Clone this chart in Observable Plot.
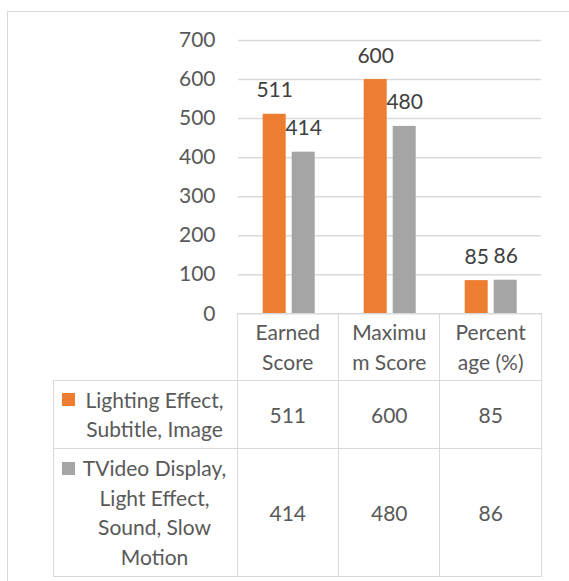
<!DOCTYPE html>
<html>
<head>
<meta charset="utf-8">
<script src="https://cdn.jsdelivr.net/npm/d3@7"></script>
<script src="https://cdn.jsdelivr.net/npm/@observablehq/plot@0.6"></script>
<style>
  html, body { margin: 0; padding: 0; background: #fff; }
  #wrap { position: relative; width: 569px; height: 581px; overflow: hidden; font-family: Lato, "Open Sans", sans-serif; }
  #frame { position: absolute; left: 6.5px; top: 10.5px; width: 700px; height: 700px;
           border-left: 1.5px solid #d9d9d9; border-top: 1.5px solid #d9d9d9; }
  #chart { position: absolute; left: 0; top: 0; }
  table { position: absolute; border-collapse: collapse; table-layout: fixed;
          color: #595959; font-size: 21px; line-height: 29.5px; font-family: Lato, "Open Sans", sans-serif; }
  td { border: 1.5px solid #d9d9d9; text-align: center; vertical-align: middle; padding: 0; white-space: nowrap; }
  td.empty { border: none; }
  .lab { position: relative; margin-left: 26px; margin-right: 7px; text-align: center; }
  .key { position: absolute; left: -17.5px; top: 8.25px; width: 13px; height: 13px; }
</style>
</head>
<body>
<div id="wrap">
  <div id="frame"></div>
  <div id="chart"></div>
</div>
<script>
// ---- data ----
const categories = ["Earned Score", "Maximum Score", "Percentage (%)"];
const categoryLines = [["Earned", "Score"], ["Maximu", "m Score"], ["Percent", "age (%)"]];
const seriesNames = ["Lighting Effect, Subtitle, Image", "TVideo Display, Light Effect, Sound, Slow Motion"];
const seriesLines = [["Lighting Effect,", "Subtitle, Image"], ["TVideo Display,", "Light Effect,", "Sound, Slow", "Motion"]];
const seriesColors = ["#ED7D31", "#A5A5A5"];
const lightingValues = [511, 600, 85];
const tvideoValues = [414, 480, 86];
const yTicks = [0, 100, 200, 300, 400, 500, 600, 700];

const seriesValues = [lightingValues, tvideoValues];
const data = categories.flatMap((c, i) =>
  seriesNames.map((s, j) => ({category: c, series: s, value: seriesValues[j][i]})));

const plot = Plot.plot({
  width: 569,
  height: 314,
  marginLeft: 237.3,
  marginRight: 27.3,
  marginTop: 40,
  marginBottom: 0.7,
  style: {fontFamily: "Lato, 'Open Sans', sans-serif", fontSize: "21px", color: "#595959", background: "transparent", overflow: "visible"},
  fx: {domain: categories, padding: 0, axis: null, label: null},
  x: {domain: seriesNames, paddingInner: 0.223, paddingOuter: 0.85, axis: null},
  y: {domain: [0, 700], ticks: yTicks, tickSize: 0, tickPadding: 23, label: null},
  color: {domain: seriesNames, range: seriesColors},
  marks: [
    Plot.ruleY(yTicks, {stroke: "#d9d9d9", strokeWidth: 1.5}),
    Plot.barY(data, {fx: "category", x: "series", y: "value", fill: "series"}),
    Plot.text(data, {fx: "category", x: "series", y: "value", text: d => String(d.value),
      lineAnchor: "bottom", dy: -17, fill: "#404040", fontSize: 21})
  ]
});
document.getElementById("chart").appendChild(plot);

// ---- data table below the plot, aligned with the fx scale ----
const fx = plot.scale("fx");
const colStart = fx.range[0];
const colW = (fx.range[1] - fx.range[0]) / categories.length;
const tableLeft = 53.3;

const table = document.createElement("table");
table.style.left = (tableLeft - 0.75) + "px";
table.style.top = (313.3 - 0.75) + "px";
const colgroup = document.createElement("colgroup");
[colStart - tableLeft, ...categories.map(() => colW)].forEach(w => {
  const col = document.createElement("col");
  col.style.width = w + "px";
  colgroup.appendChild(col);
});
table.appendChild(colgroup);
table.style.width = (colStart - tableLeft + colW * categories.length) + "px";

const rowHeights = [66.7, 67.3, 126.7];
// header
const hr = document.createElement("tr");
const e = document.createElement("td"); e.className = "empty"; e.style.height = rowHeights[0] + "px";
hr.appendChild(e);
categoryLines.forEach(lines => {
  const td = document.createElement("td");
  td.innerHTML = lines.join("<br>");
  hr.appendChild(td);
});
table.appendChild(hr);
// series rows
seriesNames.forEach((s, j) => {
  const tr = document.createElement("tr");
  const th = document.createElement("td");
  th.style.height = rowHeights[j + 1] + "px";
  const lab = document.createElement("div");
  lab.className = "lab";
  const key = document.createElement("span");
  key.className = "key";
  key.style.background = seriesColors[j];
  lab.appendChild(key);
  lab.appendChild(document.createTextNode(""));
  lab.insertAdjacentHTML("beforeend", seriesLines[j].join("<br>"));
  th.appendChild(lab);
  tr.appendChild(th);
  seriesValues[j].forEach(v => {
    const td = document.createElement("td");
    td.textContent = String(v);
    tr.appendChild(td);
  });
  table.appendChild(tr);
});
document.getElementById("wrap").appendChild(table);
</script>
</body>
</html>
